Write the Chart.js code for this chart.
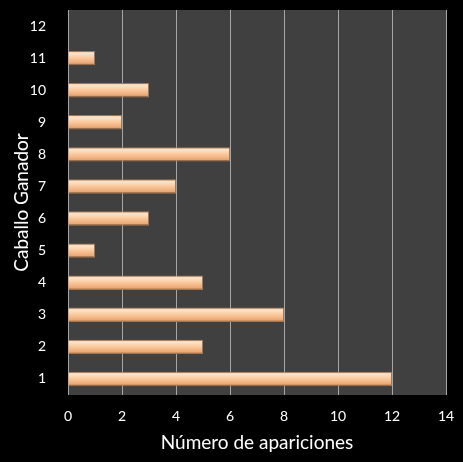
<!DOCTYPE html>
<html>
<head>
<meta charset="utf-8">
<script src="https://cdn.jsdelivr.net/npm/chart.js@4/dist/chart.umd.min.js"></script>
<style>
  html, body { margin: 0; padding: 0; background: #000; }
  #wrap { width: 463px; height: 462px; }
</style>
</head>
<body>
<div id="wrap"><canvas id="chart"></canvas></div>
<script>
const horses = ['1', '2', '3', '4', '5', '6', '7', '8', '9', '10', '11', '12'];
const appearances = [12, 5, 8, 5, 1, 3, 4, 6, 2, 3, 1, 0];
const xTicks = [0, 2, 4, 6, 8, 10, 12, 14];

const font = 'Lato, "Open Sans", sans-serif';
const barPct = 0.45;

// dark plot area over black page
const plotBg = {
    id: 'plotBg',
    beforeDraw(chart) {
        const { ctx, chartArea: a } = chart;
        ctx.save();
        ctx.fillStyle = '#000';
        ctx.fillRect(0, 0, chart.width, chart.height);
        ctx.fillStyle = '#404040';
        ctx.fillRect(a.left, a.top, a.right - a.left, a.bottom - a.top);
        ctx.restore();
    }
};

function barFill(context) {
    const chart = context.chart;
    if (!chart.chartArea) return '#fac090';
    const y = chart.scales.y.getPixelForValue(context.dataIndex);
    const band = (chart.chartArea.bottom - chart.chartArea.top) / horses.length;
    const half = band * barPct / 2;
    const g = chart.ctx.createLinearGradient(0, y - half, 0, y + half);
    g.addColorStop(0, '#f3cba4');
    g.addColorStop(0.18, '#fde3ca');
    g.addColorStop(0.55, '#fac393');
    g.addColorStop(0.85, '#e9a877');
    g.addColorStop(1, '#8e5f38');
    return g;
}

new Chart(document.getElementById('chart'), {
    type: 'bar',
    data: {
        labels: horses,
        datasets: [{
            data: appearances,
            backgroundColor: barFill,
            borderColor: '#a9764b',
            borderWidth: 1,
            borderSkipped: 'start',
            barPercentage: barPct,
            categoryPercentage: 1
        }]
    },
    plugins: [plotBg],
    options: {
        indexAxis: 'y',
        responsive: true,
        maintainAspectRatio: false,
        animation: false,
        layout: { padding: { top: 10, right: 17, left: 0, bottom: 0 } },
        plugins: {
            legend: { display: false },
            tooltip: { enabled: false }
        },
        scales: {
            x: {
                min: 0,
                max: 14,
                afterBuildTicks: s => { s.ticks = xTicks.map(v => ({ value: v })); },
                afterFit: s => { s.height = 67; s.paddingLeft = 0; s.paddingRight = 0; },
                grid: { color: '#a6a6a6', lineWidth: 1, drawTicks: false },
                border: { display: false },
                ticks: { color: '#fff', padding: 13, font: { family: font, size: 14 } },
                title: {
                    display: true,
                    text: 'Número de apariciones',
                    color: '#fff',
                    padding: { top: 0, bottom: 8 },
                    font: { family: font, size: 19 }
                }
            },
            y: {
                reverse: true,
                afterFit: s => { s.width = 68; s.paddingTop = 0; s.paddingBottom = 0; },
                grid: { display: false },
                border: { display: false },
                ticks: { color: '#fff', padding: 14, font: { family: font, size: 14 } },
                title: {
                    display: true,
                    text: 'Caballo Ganador',
                    color: '#fff',
                    padding: { top: 10, bottom: 0 },
                    font: { family: font, size: 19 }
                }
            }
        }
    }
});
</script>
</body>
</html>
